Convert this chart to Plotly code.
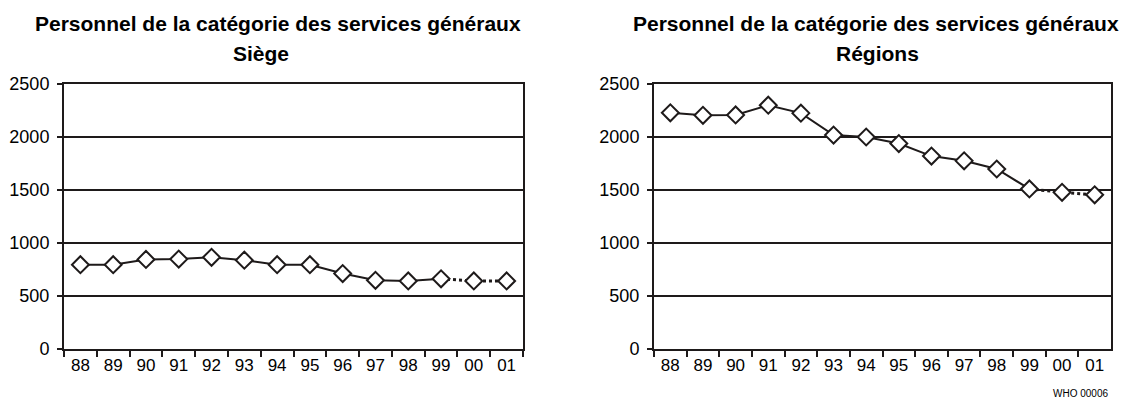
import plotly.graph_objects as go

years = ["88", "89", "90", "91", "92", "93", "94", "95", "96", "97", "98", "99", "00", "01"]
siege = [795, 795, 845, 848, 865, 838, 795, 795, 712, 648, 642, 662, 642, 642]
regions = [2228, 2205, 2208, 2300, 2225, 2018, 2000, 1938, 1820, 1775, 1698, 1510, 1478, 1455]
yticks = [0, 500, 1000, 1500, 2000, 2500]
title_line1 = "Personnel de la catégorie des services généraux"
subtitles = ["Siège", "Régions"]
source_note = "WHO 00006"

INK = "#1e1a1a"
FONT = "Liberation Sans, Arial, sans-serif"
SOLID_END = years.index("99")

fig = go.Figure()

for i, vals in enumerate([siege, regions]):
    xa = "x" if i == 0 else "x2"
    ya = "y" if i == 0 else "y2"
    fig.add_trace(go.Scatter(x=years[:SOLID_END + 1], y=vals[:SOLID_END + 1], mode="lines",
                             line=dict(color=INK, width=2), xaxis=xa, yaxis=ya,
                             showlegend=False, hoverinfo="skip"))
    fig.add_trace(go.Scatter(x=years[SOLID_END:], y=vals[SOLID_END:], mode="lines",
                             line=dict(color=INK, width=3, dash="dot"), xaxis=xa, yaxis=ya,
                             showlegend=False, hoverinfo="skip"))
    fig.add_trace(go.Scatter(x=years, y=vals, mode="markers",
                             marker=dict(symbol="diamond", size=13, color="white",
                                         line=dict(color=INK, width=2)),
                             xaxis=xa, yaxis=ya, showlegend=False))

W, H = 1121, 400
doms_x = [[64 / W, 523 / W], [654 / W, 1111 / W]]
dom_y = [1 - 349 / H, 1 - 84 / H]

xcommon = dict(type="category", categoryorder="array", categoryarray=years,
               range=[-0.5, len(years) - 0.5], tickson="boundaries",
               ticks="outside", ticklen=6, tickwidth=1.5, tickcolor=INK,
               showline=True, linecolor=INK, linewidth=2, mirror=True,
               showgrid=False, zeroline=False, automargin=False,
               tickfont=dict(family=FONT, size=17, color="black"))
ycommon = dict(range=[0, 2500], tickvals=yticks, ticks="outside", ticklen=5,
               tickwidth=1.5, tickcolor=INK, showline=True, linecolor=INK,
               linewidth=2, mirror=True, showgrid=True, gridcolor=INK, gridwidth=2,
               zeroline=False, domain=dom_y, automargin=False, ticklabelstandoff=4,
               tickfont=dict(family=FONT, size=18, color="black"))

fig.update_layout(
    width=W, height=H,
    margin=dict(l=0, r=0, t=0, b=0, autoexpand=False),
    paper_bgcolor="white", plot_bgcolor="white",
    xaxis=dict(xcommon, domain=doms_x[0], anchor="y"),
    yaxis=dict(ycommon, anchor="x"),
    xaxis2=dict(xcommon, domain=doms_x[1], anchor="y2"),
    yaxis2=dict(ycommon, anchor="x2"),
    font=dict(family=FONT, color="black"),
)

centers = [(278 / W, 261 / W), (876 / W, 877 / W)]
for (c1, c2), sub in zip(centers, subtitles):
    fig.add_annotation(text=f"<b>{title_line1}</b>", x=c1, y=1 - 23 / H, xref="paper", yref="paper",
                       xanchor="center", yanchor="middle", showarrow=False,
                       font=dict(family=FONT, size=21, color="black"))
    fig.add_annotation(text=f"<b>{sub}</b>", x=c2, y=1 - 53 / H, xref="paper", yref="paper",
                       xanchor="center", yanchor="middle", showarrow=False,
                       font=dict(family=FONT, size=21, color="black"))

fig.add_annotation(text=source_note, x=1110 / W, y=1 - 393 / H, xref="paper", yref="paper",
                   xanchor="right", yanchor="middle", showarrow=False,
                   font=dict(family=FONT, size=10, color="black"))

fig.write_html("out.html", config={"displayModeBar": False},
               post_script="document.body.style.margin='0';document.body.style.overflow='hidden';")
